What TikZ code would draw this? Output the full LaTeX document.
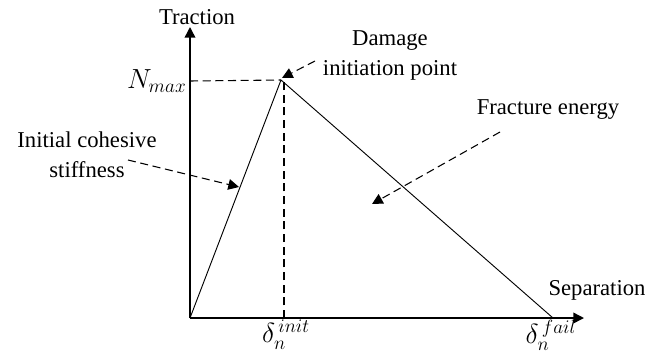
\documentclass[tikz,border=0pt]{standalone}
\usepackage{fontspec}
\setmainfont{LiberationSerif-Regular.ttf}
\usetikzlibrary{arrows.meta,positioning}

\begin{document}
\begin{tikzpicture}[x=0.75pt, y=-0.75pt, line join=round,
  font=\rmfamily\fontsize{17}{22.5}\selectfont,
  every node/.style={inner sep=1pt},
  mathlabel/.style={font=\fontsize{20}{24}\selectfont},
  axis/.style={line width=1.1pt, -{Triangle[length=8pt,width=8pt]}},
  law/.style={line width=0.7pt},
  guide/.style={line width=0.8pt, dash pattern=on 6pt off 3.5pt},
  pointer/.style={guide, -{Triangle[length=8pt,width=8pt]}}]
  \path[use as bounding box] (0,0) rectangle (664,358);
  % pixel coordinates of the reference, y pointing down
  \coordinate (O) at (190,318);
  \coordinate (ytop) at (190,27);
  \coordinate (xend) at (584,318);
  \coordinate (peak) at (281,80);
  \coordinate (fail) at (553,318);
  \coordinate (init) at (284,318);
  \coordinate (nmax) at (190,81);
  % axes
  \draw[axis] (O) -- (ytop);
  \draw[axis] (O) -- (xend);
  \node (traction) at (197,17) {Traction};
  \node (separation) at (597,290) {Separation};
  % traction-separation law
  \draw[law] (O) -- (peak) -- (fail);
  \draw[guide] (nmax) -- (peak);
  \draw[guide] (init) -- (init |- peak);
  \node[mathlabel, anchor=east] (Nmax) at (188,81) {$N_{max}$};
  \node[mathlabel] (dinit) at (286,335) {$\delta_n^{\,init}$};
  \node[mathlabel] (dfail) at (551,335) {$\delta_n^{\,fail}$};
  % annotations
  \node[align=center] (damage) at (390,55) {Damage\\initiation point};
  \coordinate (damageTail) at (315,61);
  \coordinate (damageTip) at (282,78);
  \draw[pointer] (damageTail) -- (damageTip);
  \node[align=center] (stiffness) at (87,155) {Initial cohesive\\stiffness};
  \coordinate (stiffTail) at (128,160);
  \coordinate (stiffTip) at (239,187);
  \draw[pointer] (stiffTail) -- (stiffTip);
  \node (energy) at (548,110) {Fracture energy};
  \coordinate (energyTail) at (500,132);
  \coordinate (energyTip) at (372,204);
  \draw[pointer] (energyTail) -- (energyTip);
\end{tikzpicture}
\end{document}
